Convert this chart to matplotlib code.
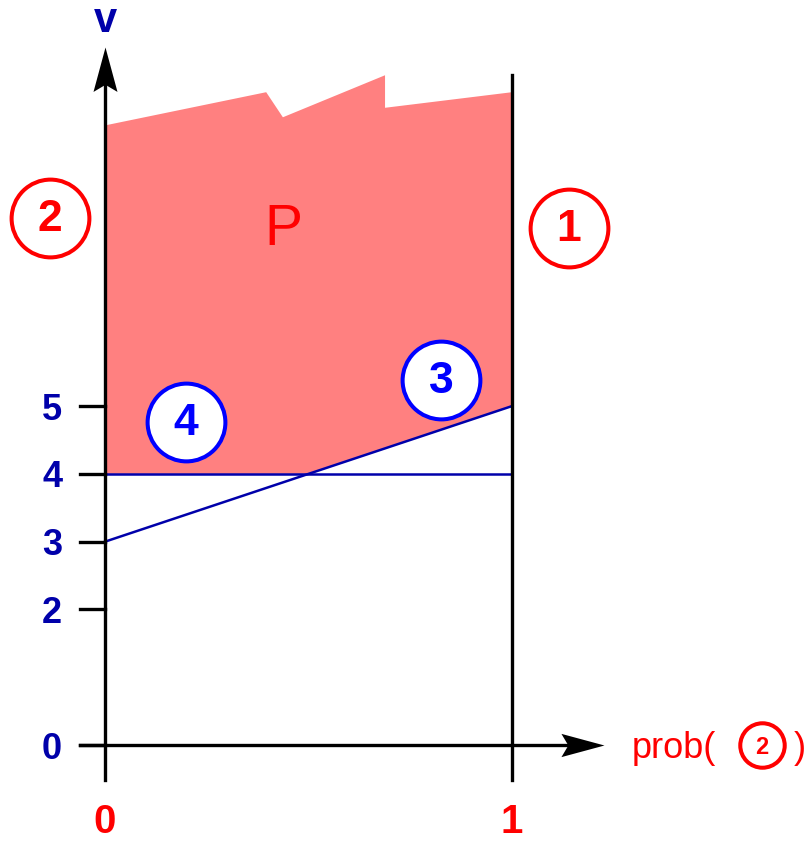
import numpy as np
import matplotlib
matplotlib.use("Agg")
import matplotlib.pyplot as plt
from matplotlib.path import Path

plt.rcParams['font.family'] = ['Liberation Sans', 'DejaVu Sans']

# values
tick_values = [0, 2, 3, 4, 5]
x_ends = [0, 1]
line_flat = [4, 4]      # line 4
line_rise = [3, 5]      # line 3
top_x = [0, 0.396, 0.437, 0.688, 0.688, 1]
top_y = [9.14, 9.63, 9.26, 9.88, 9.40, 9.63]

RED = "#ff0000"
FILL = "#ff8080"
DARK_BLUE = "#0000aa"
BLUE = "#0000ff"

fig = plt.figure(figsize=(8.12, 8.43), dpi=100)
ax = fig.add_axes([0, 0, 1, 1])
ax.set_xlim(-0.258, 1.737)
ax.set_ylim(-1.445, 10.99)
ax.set_axis_off()

# region P: between jagged top and the max of the two lines
x_cross = (line_flat[0] - line_rise[0]) / (line_rise[1] - line_rise[0])
lower_x = [x_ends[0], x_cross, x_ends[1]]
lower_y = np.maximum(np.interp(lower_x, x_ends, line_flat),
                     np.interp(lower_x, x_ends, line_rise))
poly_x = list(top_x) + lower_x[::-1]
poly_y = list(top_y) + list(lower_y[::-1])
ax.fill(poly_x, poly_y, color=FILL, lw=0, zorder=1)

# the two lines
ax.plot(x_ends, line_flat, color=DARK_BLUE, lw=1.8, zorder=3)
ax.plot(x_ends, line_rise, color=DARK_BLUE, lw=1.8, zorder=3)

# axes lines
ax.plot([0, 0], [-0.52, 9.9], color="black", lw=2.4, zorder=4)
ax.plot([-0.061, 1.15], [0, 0], color="black", lw=2.4, zorder=4)
ax.plot([1, 1], [-0.52, 9.88], color="black", lw=2.4, zorder=4)

# notched arrow heads, tip at the marker position
head = Path([(0, 0), (-1, 0.27), (-0.84, 0), (-1, -0.27), (0, 0)],
            [Path.MOVETO, Path.LINETO, Path.LINETO, Path.LINETO, Path.CLOSEPOLY])
head_up = head.transformed(matplotlib.transforms.Affine2D().rotate_deg(90))
ax.plot([1.226], [0], marker=head, ms=62, color="black", mew=0, zorder=5)
ax.plot([0], [10.3], marker=head_up, ms=64, color="black", mew=0, zorder=5)

# ticks and labels on v axis
for v in tick_values:
    ax.plot([-0.061, 0], [v, v], color="black", lw=2.4, zorder=4)
    ax.text(-0.13, v - 0.06, str(v), color=DARK_BLUE, fontsize=26,
            fontweight="bold", ha="center", va="center")
ax.text(0, 10.68, "v", color=DARK_BLUE, fontsize=30,
        fontweight="bold", ha="center", va="center")

# labels under the x axis
for xv in x_ends:
    ax.text(xv, -1.13, str(xv), color=RED, fontsize=29,
            fontweight="bold", ha="center", va="center")

ax.text(1.295, -0.05, "prob(", color=RED, fontsize=26, ha="left", va="center")
ax.plot([1.614], [0.0], marker="o", ms=32, mfc="white", mec=RED, mew=2.9, zorder=5)
ax.text(1.614, -0.03, "2", color=RED, fontsize=17, fontweight="bold",
        ha="center", va="center", zorder=6)
ax.text(1.708, -0.05, ")", color=RED, fontsize=26, ha="center", va="center")

# region label
ax.text(0.437, 7.6, "P", color=RED, fontsize=41, ha="center", va="center", zorder=5)


def circled(x, y, label, edge, fill):
    ax.plot([x], [y], marker="o", ms=56, mfc=fill, mec=edge, mew=2.9, zorder=5)
    ax.text(x, y - 0.02, label, color=edge, fontsize=32, fontweight="bold",
            ha="center", va="center", zorder=6)


circled(-0.135, 7.77, "2", RED, "none")
circled(1.140, 7.62, "1", RED, "none")
circled(0.826, 5.38, "3", BLUE, "white")
circled(0.199, 4.77, "4", BLUE, "white")

fig.savefig("out.png", dpi=100)
